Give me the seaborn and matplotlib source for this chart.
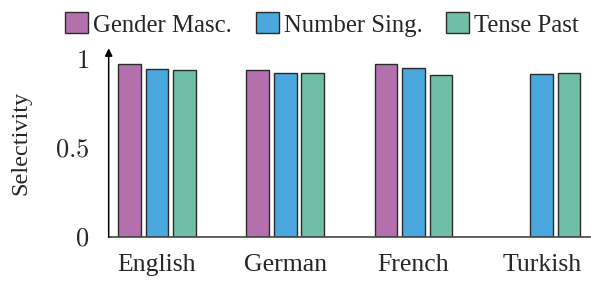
import matplotlib
matplotlib.use("Agg")
import matplotlib.pyplot as plt
import seaborn as sns
import numpy as np
import pandas as pd

# Data
languages = ["English", "German", "French", "Turkish"]
series = ["Gender Masc.", "Number Sing.", "Tense Past"]
gender_masc = [0.975, 0.938, 0.971, np.nan]
number_sing = [0.944, 0.921, 0.949, 0.917]
tense_past = [0.938, 0.925, 0.914, 0.921]
colors = ["#b370ac", "#4aa8df", "#6fbfa8"]

# Long format table for seaborn
rows = []
for name, vals in zip(series, [gender_masc, number_sing, tense_past]):
    for lang, v in zip(languages, vals):
        rows.append({"language": lang, "feature": name, "selectivity": v})
df = pd.DataFrame(rows).dropna()

sns.set_style("white")
plt.rcParams["font.family"] = ["Liberation Serif", "DejaVu Serif"]
plt.rcParams["mathtext.fontset"] = "cm"

fig = plt.figure(figsize=(5.91, 2.87), dpi=100)
ax = fig.add_axes([0.1839, 0.1732, 0.8145, 0.6585])

sns.barplot(data=df, x="language", y="selectivity", hue="feature",
            order=languages, hue_order=series, palette=colors, saturation=1,
            width=0.6435, gap=0.18, edgecolor="#2b2b2b", linewidth=1.0,
            errorbar=None, ax=ax)

ax.set_xlim(-0.377, 3.377)
ax.set_ylim(0, 1.062)
ax.set_yticks([0, 0.5, 1])
ax.set_yticklabels(["$0$", "$0.5$", "$1$"], fontsize=19)
ax.set_xticks(range(len(languages)))
ax.set_xticklabels(languages, fontsize=18.5)
ax.tick_params(axis="both", direction="out", length=4, width=0.8, color="#999999")
ax.tick_params(axis="y", pad=10)
ax.tick_params(axis="x", pad=8)
ax.set_xlabel("")
ax.set_ylabel("Selectivity", fontsize=17.5, labelpad=17)

for side in ["top", "right", "left"]:
    ax.spines[side].set_visible(False)
ax.spines["bottom"].set_color("#444444")
ax.spines["bottom"].set_linewidth(1.2)

# y axis line with arrow head
ax.annotate("", xy=(0, 1.0), xytext=(0, 0), xycoords="axes fraction",
            textcoords="axes fraction",
            arrowprops=dict(arrowstyle="-|>", color="black", lw=1.1,
                            mutation_scale=11, shrinkA=0, shrinkB=0))

ax.get_legend().remove()
handles = [plt.Rectangle((0, 0), 1, 1, facecolor=c, edgecolor="#2b2b2b", linewidth=1.0)
           for c in colors]
fig.legend(handles, series, loc="center", bbox_to_anchor=(322 / 591, 1 - 24.5 / 287),
           ncol=3, frameon=False, fontsize=17.8, handlelength=0.93, handleheight=0.93,
           handletextpad=0.2, columnspacing=0.95, borderaxespad=0, borderpad=0)

fig.savefig("out.png", dpi=100)
